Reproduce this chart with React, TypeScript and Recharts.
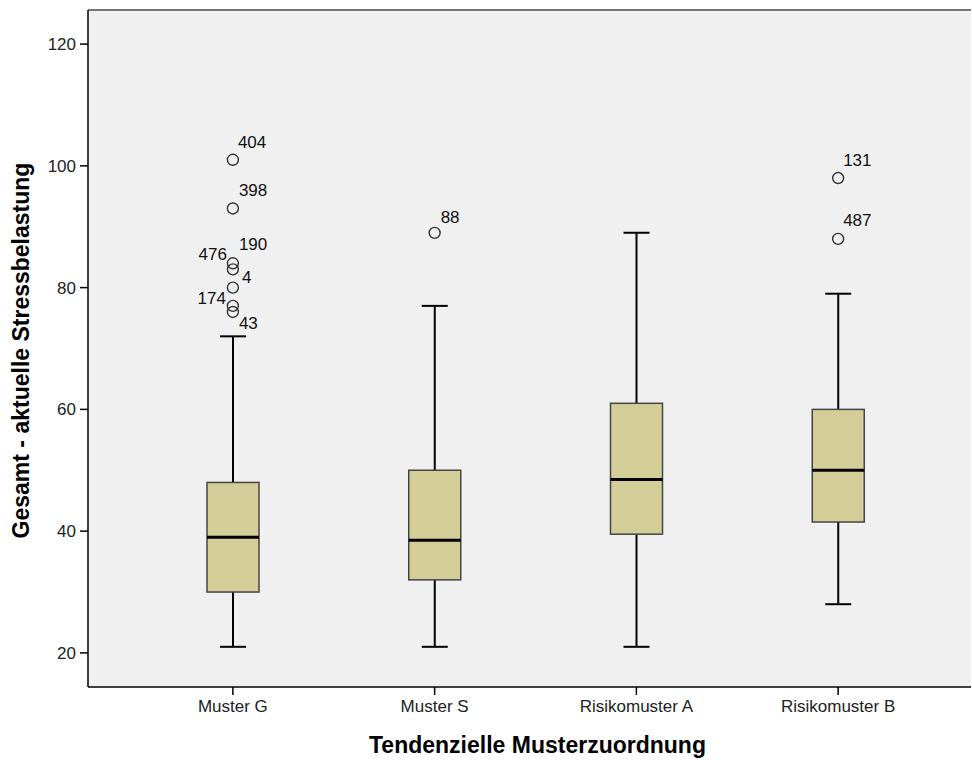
import {
  ComposedChart,
  Bar,
  Scatter,
  XAxis,
  YAxis,
  CartesianGrid,
  ReferenceLine,
  Label,
} from "recharts";

const categories = ["Muster G", "Muster S", "Risikomuster A", "Risikomuster B"];
const whiskerLow = [21, 21, 21, 28];
const quartile1 = [30, 32, 39.5, 41.5];
const medians = [39, 38.5, 48.5, 50];
const quartile3 = [48, 50, 61, 60];
const whiskerHigh = [72, 77, 89, 79];

const outlierCategory = [
  "Muster G", "Muster G", "Muster G", "Muster G", "Muster G", "Muster G", "Muster G",
  "Muster S",
  "Risikomuster B", "Risikomuster B",
];
const outlierValues = [101, 93, 84, 83, 80, 77, 76, 89, 98, 88];
const outlierIds = ["404", "398", "190", "476", "4", "174", "43", "88", "131", "487"];

const yTicks = [20, 40, 60, 80, 100, 120];
const yDomain = [14.4, 125.6];

// label placement next to each outlier circle: [dx, dy, anchor]
const labelPlacement: Record<string, [number, number, "start" | "end"]> = {
  "404": [5, -12, "start"],
  "398": [6, -12, "start"],
  "190": [6, -13, "start"],
  "476": [-6, -9, "end"],
  "4": [9, -5, "start"],
  "174": [-7, -2, "end"],
  "43": [6, 17, "start"],
  "88": [6, -10, "start"],
  "131": [5, -12, "start"],
  "487": [5, -13, "start"],
};

const font = "'Liberation Sans', Arial, sans-serif";
const boxFill = "#d3ce97";

const boxData = categories.map((cat, i) => ({
  cat,
  low: whiskerLow[i],
  q1: quartile1[i],
  median: medians[i],
  q3: quartile3[i],
  high: whiskerHigh[i],
}));

const outliers = outlierValues.map((value, i) => ({
  cat: outlierCategory[i],
  value,
  id: outlierIds[i],
}));

function BoxShape(props: any) {
  const { x, y, width, height, payload } = props;
  const top = Math.min(y, y + height);
  const h = Math.abs(height);
  const k = h / (payload.high - payload.low);
  const py = (v: number) => top + (payload.high - v) * k;
  const cx = x + width / 2;
  const half = width / 2;
  const cap = 13;
  return (
    <g>
      <line x1={cx} x2={cx} y1={py(payload.high)} y2={py(payload.low)} stroke="#000" strokeWidth={2} />
      <line x1={cx - cap} x2={cx + cap} y1={py(payload.high)} y2={py(payload.high)} stroke="#000" strokeWidth={2} />
      <line x1={cx - cap} x2={cx + cap} y1={py(payload.low)} y2={py(payload.low)} stroke="#000" strokeWidth={2} />
      <rect
        x={cx - half}
        y={py(payload.q3)}
        width={width}
        height={py(payload.q1) - py(payload.q3)}
        fill={boxFill}
        stroke="#444"
        strokeWidth={1.5}
      />
      <line x1={cx - half} x2={cx + half} y1={py(payload.median)} y2={py(payload.median)} stroke="#000" strokeWidth={3} />
    </g>
  );
}

function OutlierShape(props: any) {
  const { cx, cy, payload } = props;
  const [dx, dy, anchor] = labelPlacement[payload.id] || [5, -12, "start"];
  return (
    <g>
      <circle cx={cx} cy={cy} r={5.5} fill="none" stroke="#333" strokeWidth={1.4} />
      <text x={cx + dx} y={cy + dy} textAnchor={anchor} fontSize={17} fontFamily={font} fill="#111">
        {payload.id}
      </text>
    </g>
  );
}

export default function App() {
  return (
    <div style={{ position: "absolute", left: 0, top: 0, background: "#fff" }}>
      <ComposedChart
        width={972}
        height={760}
        data={boxData}
        margin={{ top: 10, right: 1, bottom: 0, left: 0 }}
      >
        <CartesianGrid fill="#f0f0f0" horizontal={false} vertical={false} />
        <XAxis
          dataKey="cat"
          type="category"
          allowDuplicatedCategory={false}
          padding={{ left: 44, right: 32 }}
          height={73}
          tickSize={8}
          tickMargin={5}
          tick={{ fill: "#222", fontSize: 17, fontFamily: font }}
          axisLine={{ stroke: "#000", strokeWidth: 1.5 }}
          tickLine={{ stroke: "#000", strokeWidth: 1.5 }}
        >
          <Label
            content={(p: any) => {
              const vb = p.viewBox;
              return (
                <text
                  x={vb.x + vb.width / 2 + 8}
                  y={753}
                  textAnchor="middle"
                  fontSize={23}
                  fontWeight="bold"
                  fontFamily={font}
                  fill="#000"
                >
                  Tendenzielle Musterzuordnung
                </text>
              );
            }}
          />
        </XAxis>
        <YAxis
          type="number"
          domain={yDomain}
          ticks={yTicks}
          allowDataOverflow
          width={88}
          tickSize={8}
          tickMargin={4}
          tick={{ fill: "#222", fontSize: 17, fontFamily: font }}
          axisLine={{ stroke: "#000", strokeWidth: 1.5 }}
          tickLine={{ stroke: "#000", strokeWidth: 1.5 }}
        >
          <Label
            content={(p: any) => {
              const vb = p.viewBox;
              const cy = vb.y + vb.height / 2 + 2;
              return (
                <text
                  x={21}
                  y={cy}
                  transform={`rotate(-90, 21, ${cy})`}
                  textAnchor="middle"
                  dominantBaseline="central"
                  fontSize={23}
                  fontWeight="bold"
                  fontFamily={font}
                  fill="#000"
                >
                  Gesamt - aktuelle Stressbelastung
                </text>
              );
            }}
          />
        </YAxis>
        <ReferenceLine y={yDomain[1]} stroke="#777" strokeWidth={2} />
        <Bar
          dataKey={(d: any) => [d.low, d.high]}
          barSize={52}
          shape={BoxShape}
          isAnimationActive={false}
        />
        <Scatter
          data={outliers}
          dataKey="value"
          shape={OutlierShape}
          isAnimationActive={false}
        />
      </ComposedChart>
    </div>
  );
}
